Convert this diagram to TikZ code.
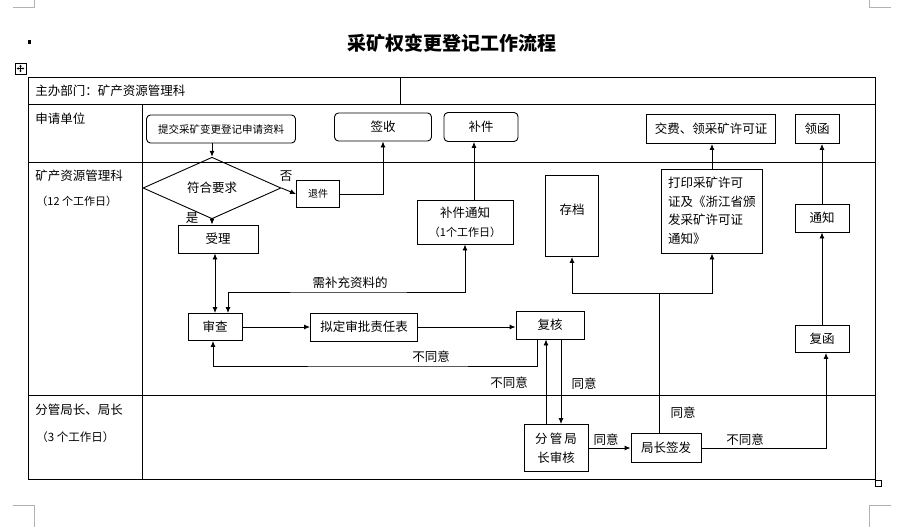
\documentclass[tikz,border=0pt]{standalone}
\usepackage{fontspec}
\setmainfont{Noto Sans CJK SC}
\usetikzlibrary{shapes.geometric,arrows.meta}

\begin{document}
\begin{tikzpicture}[x=1pt,y=-1pt,line width=0.9pt,>={Latex[length=6pt,width=5pt]},
    box/.style={draw,rectangle,inner sep=0pt,font=\fontsize{12.5}{15}\selectfont},
    rbox/.style={box,rounded corners=4pt},
    lbl/.style={inner sep=0pt,font=\fontsize{12.5}{15}\selectfont},
    crop/.style={gray!60,line width=0.9pt}]
    \useasboundingbox (0,0) rectangle (909,527);
         \draw[crop] (13,7) -- (34,7) -- (34,0);
         \draw[crop] (891,7) -- (869,7) -- (869,0);
         \draw[crop] (13,505) -- (34,505) -- (34,527);
         \draw[crop] (891,505) -- (869,505) -- (869,527);
         \fill (28,40) rectangle (31,44);
         \draw[line width=0.6pt] (15,63) rectangle (26,74);
             \draw[line width=0.6pt,-{Latex[length=2pt,width=2.5pt]}] (20.5,68.5) -- (20.5,64.5);
             \draw[line width=0.6pt,-{Latex[length=2pt,width=2.5pt]}] (20.5,68.5) -- (20.5,72.5);
             \draw[line width=0.6pt,-{Latex[length=2pt,width=2.5pt]}] (20.5,68.5) -- (16.5,68.5);
             \draw[line width=0.6pt,-{Latex[length=2pt,width=2.5pt]}] (20.5,68.5) -- (24.5,68.5);
         \node[inner sep=0pt] (title) at (452,43) {\fontsize{19}{22}\selectfont\bfseries 采矿权变更登记工作流程};

         \draw (28,77) rectangle (875,479);
             \draw (28,104) -- (875,104);
             \draw (28,162) -- (875,162);
             \draw (28,395) -- (875,395);
             \draw (142,104) -- (142,479);
             \draw (400,77) -- (400,104);
         \draw[line width=0.7pt] (875,480) rectangle (881,486);
         \node[lbl,anchor=west] (dept) at (35,91) {主办部门：矿产资源管理科};
         \node[lbl,anchor=west] (apply) at (35,119) {申请单位};
         \node[lbl,anchor=west] (mine) at (35,176) {矿产资源管理科};
         \node[lbl,anchor=west,font=\fontsize{11}{12}\selectfont] (days12) at (36,201) {（12 个工作日）};
         \node[lbl,anchor=west] (lead) at (35,410) {分管局长、局长};
         \node[lbl,anchor=west,font=\fontsize{11.5}{12}\selectfont] (days3) at (36,437) {（3 个工作日）};

         \node[rbox,minimum width=149,minimum height=28,font=\fontsize{10.5}{12}\selectfont] (submit) at (221,129) {提交采矿变更登记申请资料};
         \node[rbox,minimum width=97,minimum height=28] (sign) at (383,127) {签收};
         \node[rbox,minimum width=74,minimum height=29] (patch) at (481,127) {补件};
         \node[box,minimum width=129,minimum height=29] (pay) at (711,129) {交费、领采矿许可证};
         \node[box,minimum width=44,minimum height=29] (letter) at (817,129) {领函};
         \node[box,diamond,minimum width=138,minimum height=40] (check) at (212,188) {符合要求};
         \node[box,minimum width=43,minimum height=27,font=\fontsize{10}{12}\selectfont] (reject) at (318,194) {退件};
         \node[box,minimum width=80,minimum height=28] (accept) at (218,239) {受理};
         \node[box,minimum width=96,minimum height=44,align=center,font=\fontsize{12.5}{19}\selectfont] (notice) at (465,222) {补件通知\\{\fontsize{11}{12}\selectfont（1个工作日）}};
         \node[box,minimum width=53,minimum height=81] (archive) at (572,216) {};
             \node[lbl] (archivetext) at (572,210) {存档};
         \node[box,minimum width=101,minimum height=84,align=left,text width=88,font=\fontsize{12.5}{18.5}\selectfont] (print) at (712,211) {打印采矿许可\\证及《浙江省颁\\发采矿许可证\\通知》};
         \node[box,minimum width=54,minimum height=28] (notify) at (822,218) {通知};
         \node[box,minimum width=54,minimum height=27] (review) at (215,327) {审查};
         \node[box,minimum width=107,minimum height=28] (duty) at (364,327) {拟定审批责任表};
         \node[box,minimum width=68,minimum height=28] (recheck) at (550,325) {复核};
         \node[box,minimum width=54,minimum height=27] (reply) at (822,339) {复函};
         \node[box,minimum width=64,minimum height=47,align=center,font=\fontsize{12.5}{19}\selectfont] (deputy) at (556,448) {分\,管\,局\\长审核};
         \node[box,minimum width=70,minimum height=29] (director) at (666,448) {局长签发};

         \coordinate (suppl) at (350,292);
         \coordinate (back) at (400,366);
         \coordinate (split) at (659,293);

         \draw[->] (submit.south -| check.north) -- (check.north);
         \draw[->] (check.east) -- (reject.west);
             \node[lbl] (no) at (286,176) {否};
         \draw[->] (reject.east) -| (sign.south);
         \draw[->] (check.south) -- (check.south |- accept.north);
             \node[lbl] (yes) at (192,218) {是};
         \draw[<->] (accept.south -| review.north) -- (review.north);
         \draw[<->] ([xshift=13pt]review.north) |- (suppl) -| (notice.south);
             \node[lbl] (supltext) at (350,283) {需补充资料的};
         \draw[->] ([xshift=9pt]notice.north) -- ([xshift=9pt]notice.north |- patch.south);
         \draw[->] (review.east) -- (duty.west);
         \draw[->] (duty.east) -- (duty.east -| recheck.west);
         \draw[->] ([xshift=-13pt]recheck.south) |- (back) -| ([xshift=-2pt]review.south);
             \node[lbl] (disagree1) at (431,357) {不同意};
         \draw[->] ([xshift=-10pt]deputy.north) -- ([xshift=-10pt]deputy.north |- recheck.south);
             \node[lbl] (disagree2) at (509,383) {不同意};
         \draw[->] ([xshift=11pt]recheck.south) -- ([xshift=11pt]recheck.south |- deputy.north);
             \node[lbl] (agree1) at (584,384) {同意};
         \draw[->] (deputy.east) -- (deputy.east -| director.west);
             \node[lbl] (agree2) at (606,440) {同意};
         \draw ([xshift=-7pt]director.north) -- (split);
         \draw[->] (split) -| (archive.south);
         \draw[->] (split) -| (print.south);
             \node[lbl] (agree3) at (683,413) {同意};
         \draw[->] (director.east) -| ([xshift=4pt]reply.south);
             \node[lbl] (disagree3) at (745,440) {不同意};
         \draw[->] (reply.north) -- (notify.south);
         \draw[->] (notify.north) -- (notify.north |- letter.south);
         \draw[->] (print.north) -- (print.north |- pay.south);
     \end{tikzpicture}
\end{document}
